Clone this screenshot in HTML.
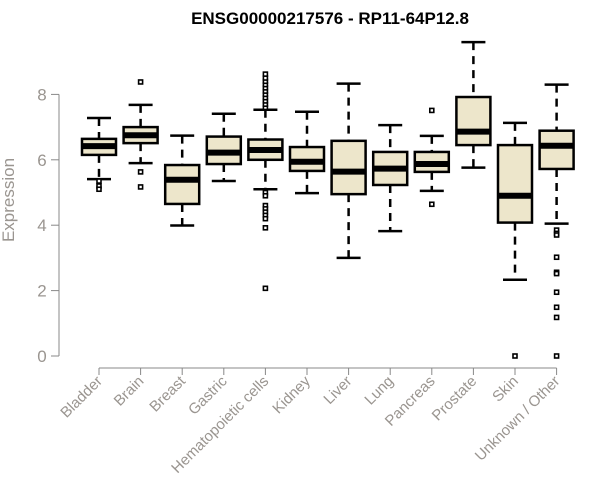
<!DOCTYPE html>
<html><head><meta charset="utf-8"><style>body{margin:0;background:#fff}svg{display:block}text{font-family:"Liberation Sans",sans-serif}</style></head>
<body>
<svg id="chart" width="600" height="500"></svg>
<script>
const categories=["Bladder","Brain","Breast","Gastric","Hematopoietic cells","Kidney","Liver","Lung","Pancreas","Prostate","Skin","Unknown / Other"];
const whiskerLow=[5.41,5.9,3.99,5.35,5.1,4.98,3.0,3.82,5.05,5.76,2.33,4.05];
const q1=[6.15,6.51,4.65,5.87,6.0,5.66,4.95,5.23,5.63,6.45,4.08,5.72];
const medians=[6.42,6.75,5.39,6.22,6.3,5.94,5.64,5.73,5.87,6.86,4.9,6.43];
const q3=[6.64,7.0,5.84,6.71,6.62,6.39,6.58,6.24,6.24,7.92,6.45,6.89];
const whiskerHigh=[7.28,7.68,6.74,7.41,7.53,7.47,8.33,7.06,6.73,9.6,7.13,8.3];
const outliers=[[5.35,5.2,5.1],[8.38,5.63,5.17],[],[],[7.6,7.7,7.8,7.9,8.0,8.1,8.2,8.3,8.4,8.5,8.62,5.0,4.9,4.6,4.5,4.4,4.3,4.2,3.92,2.07],[],[],[],[7.51,4.64],[],[0],[3.85,3.75,3.7,3.02,2.56,2.52,1.95,1.49,1.18,0]];
const yTicks=[0,2,4,6,8];
const NS="http://www.w3.org/2000/svg";
const svg=document.getElementById('chart');
const y=v=>356-32.7*v;
const x=i=>99+i*41.6;
function mk(t,a,p){const e=document.createElementNS(NS,t);for(const k in a)e.setAttribute(k,a[k]);(p||svg).appendChild(e);return e;}
let t=mk('text',{x:330,y:24,'text-anchor':'middle','font-size':17,'font-weight':'bold',fill:'#000'});t.textContent="ENSG00000217576 - RP11-64P12.8";

let ya=mk('g',{});
mk('line',{x1:59,x2:59,y1:y(8),y2:y(0),stroke:'#888'},ya);
yTicks.forEach(v=>{mk('line',{x1:51,x2:59,y1:y(v),y2:y(v),stroke:'#888'},ya);
const l=mk('text',{x:42,y:y(v)+6,'text-anchor':'middle','font-size':17,fill:'#9a9590'},ya);l.textContent=v;
});
t=mk('text',{x:14,y:200,'text-anchor':'middle','font-size':17,fill:'#9a9590',transform:'rotate(-90 14 200)'});t.textContent="Expression";

let xa=mk('g',{});
mk('line',{x1:x(0),x2:x(11),y1:368,y2:368,stroke:'#888'},xa);
categories.forEach((c,i)=>{mk('line',{x1:x(i),x2:x(i),y1:368,y2:375,stroke:'#888'},xa);
const l=mk('text',{x:x(i)+4,y:382,'text-anchor':'end','font-size':15,fill:'#9a9590',transform:`rotate(-45 ${x(i)+4} 382)`},xa);l.textContent=c;
});
categories.forEach((c,i)=>{
const g=mk('g',{});
const cx=x(i),hw=17,cw=12;
mk('line',{x1:cx,x2:cx,y1:y(whiskerHigh[i]),y2:y(q3[i]),stroke:'#000','stroke-width':2.5,'stroke-dasharray':'8,6'},g);
mk('line',{x1:cx,x2:cx,y1:y(q1[i]),y2:y(whiskerLow[i]),stroke:'#000','stroke-width':2.5,'stroke-dasharray':'8,6'},g);
mk('line',{x1:cx-cw,x2:cx+cw,y1:y(whiskerHigh[i]),y2:y(whiskerHigh[i]),stroke:'#000','stroke-width':2.5},g);
mk('line',{x1:cx-cw,x2:cx+cw,y1:y(whiskerLow[i]),y2:y(whiskerLow[i]),stroke:'#000','stroke-width':2.5},g);
mk('rect',{x:cx-hw,y:y(q3[i]),width:2*hw,height:y(q1[i])-y(q3[i]),fill:'#ede6cb',stroke:'#000','stroke-width':2.5},g);
mk('line',{x1:cx-hw,x2:cx+hw,y1:y(medians[i]),y2:y(medians[i]),stroke:'#000','stroke-width':6},g);
outliers[i].forEach(v=>{const o=mk('rect',{x:cx-2,y:y(v)-2,width:4,height:4,fill:'#fff',stroke:'#000','stroke-width':1.6},g);
});
});
</script>
</body></html>
